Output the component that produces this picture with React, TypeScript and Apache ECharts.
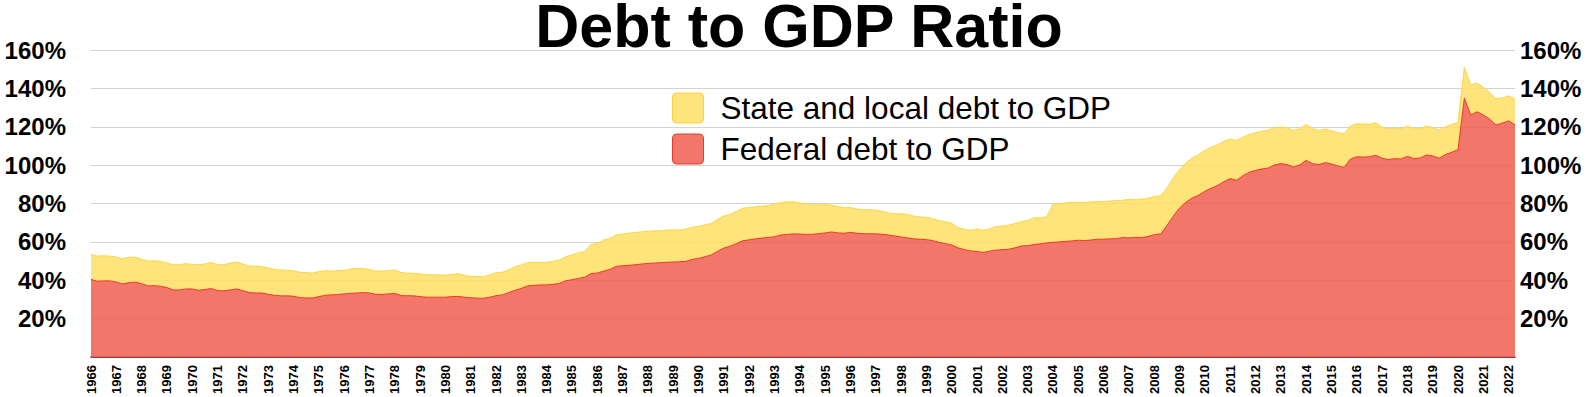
import React, { useEffect, useRef } from "react";
import * as echarts from "echarts";

const startYear = 1966;
const endYear = 2022;
const lastYearQuarters = 2;

const federal: number[] = [
  40.5, 39.5, 39.7, 39.7, 39.1, 38.1, 38.8, 39.0, 38.3, 37.1, 37.2, 36.9, 36.2, 35.0, 35.0, 35.5, 35.5, 34.8, 35.2, 35.7,
  34.6, 34.5, 35.0, 35.5, 34.6, 33.6, 33.4, 33.4, 32.7, 32.2, 31.9, 31.9, 31.7, 31.0, 30.8, 30.8, 31.5, 32.2, 32.4, 32.6,
  32.9, 33.2, 33.4, 33.6, 33.4, 32.7, 32.7, 32.9, 33.2, 32.0, 32.0, 31.9, 31.5, 31.2, 31.2, 31.2, 31.2,
  31.5, 31.6, 31.2, 30.9, 30.7, 30.6, 31.2, 32.0, 32.4, 33.6, 34.8,
  35.8, 37.1, 37.4, 37.6, 37.6, 37.9, 38.4, 39.8, 40.3, 41.0, 41.6, 43.5, 43.8, 44.8, 45.7, 47.3, 47.6, 47.8, 48.1, 48.5,
  48.8, 49.0, 49.2, 49.4, 49.5, 49.7, 49.9, 50.9, 51.4, 52.3, 53.2, 55.1, 56.8, 57.8, 59.2, 60.6, 61.1, 61.6, 62.0, 62.3,
  62.7, 63.6, 63.9, 64.2, 64.1, 63.9,
  64.0, 64.3, 64.7, 65.2, 64.7, 64.5, 65.0, 64.5, 64.3, 64.3, 64.2, 64.0, 63.6, 63.1, 62.6, 62.1, 61.6, 61.4, 61.2, 60.7,
  59.8, 59.1, 58.4, 56.9, 56.0, 55.3, 55.0, 54.5, 55.2, 55.7, 56.0, 56.2, 56.9, 57.9, 58.1, 58.6, 59.0, 59.5, 59.8, 60.0,
  60.3, 60.5, 60.9, 60.7, 61.0, 61.4, 61.4, 61.6, 61.7, 62.3, 62.1, 62.4, 62.3, 62.8, 63.8, 64.2,
  68.5, 73.4, 77.7, 80.7, 82.9, 84.3, 86.4, 88.0, 89.4, 91.4, 93.0, 92.1, 94.5, 96.3, 97.3, 98.0, 98.5, 100.1, 100.8, 100.3,
  99.1, 100.1, 102.5, 100.8, 100.3, 101.3, 100.6, 99.6, 98.9, 103.2, 104.4, 104.2, 104.4, 105.1, 103.6, 102.9, 103.4, 103.2, 104.6, 103.4,
  103.7, 105.3, 104.8, 103.6, 105.5, 106.7, 108.1, 134.9, 126.1, 127.8, 126.1, 124.0, 120.9, 121.9, 123.1, 121.0,
];

// Total (federal + state and local) debt to GDP, the top of the stacked area
const totalDebt: number[] = [
  53.5, 52.6, 52.8, 52.6, 52.1, 51.2, 52.1, 52.0, 50.9, 50.0, 50.2, 49.9, 49.0, 48.1, 48.1, 48.7, 48.3, 48.1, 48.5, 49.4,
  48.1, 48.1, 49.0, 49.5, 48.5, 47.4, 47.3, 47.1, 46.4, 45.7, 45.4, 45.2, 45.0, 44.2, 44.0, 43.8, 44.5, 45.0, 44.8, 45.0,
  45.2, 45.9, 46.1, 46.1, 45.7, 44.8, 44.8, 45.0, 45.5, 44.0, 43.8, 43.6, 43.3, 42.9, 42.9, 42.8, 42.8,
  42.9, 43.5, 42.6, 42.1, 41.9, 41.9, 42.8, 44.0, 44.2, 45.5, 47.1, 48.0, 49.2, 49.4, 49.2, 49.4, 49.9, 50.7, 52.3, 53.2,
  54.4, 54.9, 58.7, 59.2, 61.0, 61.8, 63.6, 64.1, 64.6, 64.9, 65.3, 65.6, 65.8, 65.8, 66.2, 66.3, 66.2, 66.7, 67.7, 68.1,
  68.9, 69.6, 71.7, 73.6, 74.3, 76.0, 77.6, 77.9, 78.3, 78.6, 79.0, 79.7, 80.5, 80.9, 80.9, 80.2, 79.8,
  79.4, 79.4, 79.4, 79.2, 78.5, 77.8, 78.0, 77.1, 76.8, 76.8, 76.6, 75.9, 75.1, 74.7, 74.7, 74.4, 73.5, 73.0, 72.8, 72.1,
  71.1, 70.6, 69.7, 67.4, 66.6, 66.1, 66.8, 66.1, 66.9, 68.0, 68.3, 68.8, 69.5, 70.7, 71.1, 72.6, 72.6, 73.0, 79.7, 79.9,
  80.3, 80.6, 80.6, 80.6, 80.8, 81.1, 81.1, 81.3, 81.5, 81.7, 82.2, 82.0, 82.2, 82.7, 83.7, 84.1,
  88.0, 93.3, 97.7, 101.1, 103.7, 105.5, 107.7, 109.3, 110.7, 112.4, 113.6, 112.9, 114.6, 116.0, 116.9, 117.6, 118.3, 119.5, 119.8, 119.5,
  118.1, 119.0, 121.2, 119.1, 118.1, 118.8, 117.9, 116.9, 116.4, 120.4, 121.6, 121.4, 121.4, 122.1, 119.8, 119.1, 119.3, 119.0, 120.2, 119.0,
  119.0, 120.4, 119.5, 118.3, 120.0, 121.2, 122.3, 151.0, 141.8, 142.7, 140.6, 137.9, 134.7, 135.1, 136.1, 134.4,
];

const yTicks: number[] = [20, 40, 60, 80, 100, 120, 140, 160];

const categories: string[] = [];
for (let y = startYear; y <= endYear; y++) {
  const nq = y === endYear ? lastYearQuarters : 4;
  for (let q = 1; q <= nq; q++) categories.push(`${y} Q${q}`);
}

const stateLocal: number[] = totalDebt.map((t, i) => +(t - federal[i]).toFixed(1));

const FONT = "'Liberation Sans', Arial, Helvetica, sans-serif";

const legendIcon =
  "path://M4,0 H27 A4,4 0 0 1 31,4 V26 A4,4 0 0 1 27,30 H4 A4,4 0 0 1 0,26 V4 A4,4 0 0 1 4,0 Z";

export default function App() {
  const ref = useRef<HTMLDivElement>(null);
  useEffect(() => {
    document.body.style.margin = "0";
    document.body.style.overflow = "hidden";
    if (!ref.current) return;
    const chart = echarts.init(ref.current, undefined, { renderer: "svg" });
    const yLabel = {
      fontSize: 24,
      fontWeight: "bold" as const,
      color: "#000",
      fontFamily: FONT,
      formatter: (v: number) => (yTicks.includes(v) ? `${v}%` : ""),
    };
    chart.setOption({
      animation: false,
      title: {
        text: "Debt to GDP Ratio",
        left: 799,
        textAlign: "center",
        top: 2,
        padding: 0,
        textStyle: { fontSize: 61, lineHeight: 48, fontWeight: "bold", color: "#000", fontFamily: FONT },
      },
      legend: {
        orient: "vertical",
        left: 672,
        top: 92,
        padding: 0,
        itemWidth: 31,
        itemHeight: 30,
        itemGap: 9,
        textStyle: { fontSize: 31.5, color: "#000", fontFamily: FONT, padding: [0, 0, 0, 12] },
        data: [
          {
            name: "State and local debt to GDP",
            icon: legendIcon,
            itemStyle: { color: "#FEE47C", borderColor: "#F9D23C", borderWidth: 1 },
          },
          {
            name: "Federal debt to GDP",
            icon: legendIcon,
            itemStyle: { color: "#F3766A", borderColor: "#E93A2A", borderWidth: 1 },
          },
        ],
      },
      grid: { left: 91, right: 73, top: 50, bottom: 39, containLabel: false },
      xAxis: {
        type: "category",
        data: categories,
        boundaryGap: false,
        axisLine: { show: true, lineStyle: { color: "#8a0f0f", width: 1.5 } },
        axisTick: { show: false },
        axisLabel: {
          interval: 3,
          rotate: 90,
          margin: 8,
          fontSize: 13,
          fontWeight: "bold",
          color: "#000",
          fontFamily: FONT,
          formatter: (v: string) => v.slice(0, 4),
        },
        splitLine: { show: false },
      },
      yAxis: [
        {
          type: "value",
          min: 0,
          max: 160,
          interval: 20,
          position: "left",
          axisLine: { show: false },
          axisTick: { show: false },
          axisLabel: { ...yLabel, margin: 25 },
          splitLine: { show: true, lineStyle: { color: "#d2d2d2", width: 1 } },
        },
        {
          type: "value",
          min: 0,
          max: 160,
          interval: 20,
          position: "right",
          axisLine: { show: false },
          axisTick: { show: false },
          axisLabel: { ...yLabel, margin: 5 },
          splitLine: { show: false },
        },
      ],
      series: [
        {
          name: "Federal debt to GDP",
          type: "line",
          stack: "debt",
          data: federal,
          showSymbol: false,
          symbol: "none",
          lineStyle: { color: "#EC3A26", width: 1 },
          itemStyle: { color: "#F3766A" },
          areaStyle: { color: "rgba(241,94,80,0.85)", opacity: 1 },
          z: 3,
        },
        {
          name: "State and local debt to GDP",
          type: "line",
          stack: "debt",
          data: stateLocal,
          showSymbol: false,
          symbol: "none",
          lineStyle: { color: "#FAD748", width: 1 },
          itemStyle: { color: "#FEE47C" },
          areaStyle: { color: "rgba(254,223,99,0.85)", opacity: 1 },
          z: 2,
        },
      ],
    });
    return () => chart.dispose();
  }, []);
  return <div ref={ref} style={{ width: 1588, height: 397 }} />;
}
